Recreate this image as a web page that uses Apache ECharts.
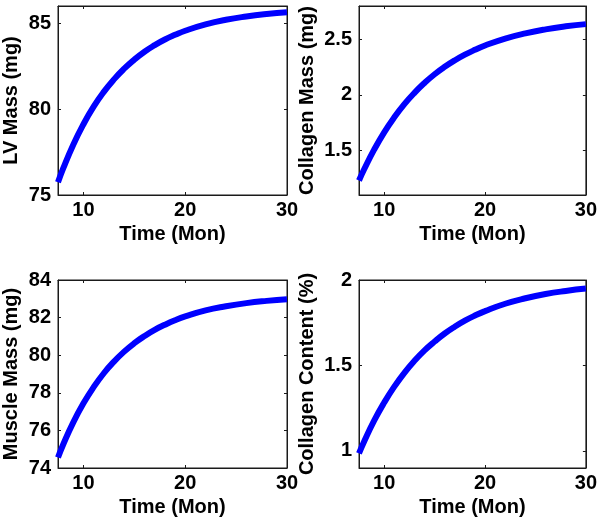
<!DOCTYPE html>
<html>
<head>
<meta charset="utf-8">
<script src="https://cdn.jsdelivr.net/npm/echarts@6/dist/echarts.min.js"></script>
<style>
html,body{margin:0;padding:0;background:#fff;}
#c{width:600px;height:520px;}
</style>
</head>
<body>
<div id="c"></div>
<script>
// ---- data ----
var months = [7.5, 8, 9, 10, 11, 12, 13, 14, 15, 16, 17, 18, 19, 20, 22, 24, 26, 28, 30];
var lvMass = [75.74, 76.53, 77.93, 79.12, 80.14, 81.0, 81.73, 82.35, 82.88, 83.34, 83.72, 84.05, 84.32, 84.56, 84.93, 85.2, 85.39, 85.53, 85.63];
var collagenMass = [1.23, 1.329, 1.508, 1.664, 1.799, 1.917, 2.019, 2.108, 2.186, 2.253, 2.311, 2.362, 2.406, 2.445, 2.507, 2.554, 2.59, 2.617, 2.637];
var muscleMass = [74.56, 75.24, 76.43, 77.44, 78.3, 79.04, 79.66, 80.19, 80.64, 81.02, 81.35, 81.62, 81.86, 82.06, 82.38, 82.6, 82.77, 82.89, 82.98];
var collagenContent = [0.986, 1.054, 1.177, 1.283, 1.376, 1.457, 1.527, 1.588, 1.64, 1.687, 1.727, 1.762, 1.792, 1.818, 1.861, 1.893, 1.918, 1.936, 1.95];

var xTicks = [10, 20, 30];
var lvTicks = [75, 80, 85];
var collagenMassTicks = [1.5, 2, 2.5];
var muscleTicks = [74, 76, 78, 80, 82, 84];
var collagenContentTicks = [1, 1.5, 2];

var xName = 'Time (Mon)';
var yNames = ['LV Mass (mg)', 'Collagen Mass (mg)', 'Muscle Mass (mg)', 'Collagen Content (%)'];
var seriesData = [lvMass, collagenMass, muscleMass, collagenContent];
var yTickSets = [lvTicks, collagenMassTicks, muscleTicks, collagenContentTicks];
var yRanges = [[75, 86], [1.1, 2.8], [74, 84], [0.9, 2.0]];
var xRange = [7.5, 30];

// ---- layout ----
var grids = [
  {left: 57, top: 6, width: 230, height: 189},
  {left: 359, top: 6, width: 229, height: 189},
  {left: 57, top: 280, width: 230, height: 188},
  {left: 359, top: 280, width: 229, height: 188}
];
var yNameGaps = [37, 42, 37, 42];

var FONT = '"Liberation Sans", Arial, sans-serif';
var AX = '#1a1a1a';
var txt = {fontFamily: FONT, fontWeight: 'bold', fontSize: 20, color: '#000'};

var option = {
  animation: false,
  backgroundColor: '#fff',
  grid: [], xAxis: [], yAxis: [], series: []
};

function pairs(xs, ys) {
  var out = [];
  for (var i = 0; i < xs.length; i++) out.push([xs[i], ys[i]]);
  return out;
}

for (var g = 0; g < 4; g++) {
  var gr = grids[g];
  option.grid.push({left: gr.left, top: gr.top, width: gr.width, height: gr.height,
    show: true, borderColor: AX, borderWidth: 1, backgroundColor: '#fff'});
  option.xAxis.push({
    type: 'value', gridIndex: g, position: 'bottom', min: xRange[0], max: xRange[1],
    name: xName, nameLocation: 'middle', nameGap: 29,
    nameTextStyle: txt,
    axisLine: {show: true, lineStyle: {color: AX, width: 1}},
    axisTick: {show: true, inside: true, length: 3, customValues: xTicks, lineStyle: {color: AX}},
    axisLabel: {show: true, customValues: xTicks, margin: 5, fontFamily: FONT, fontWeight: 'bold', fontSize: 20, color: '#000'},
    splitLine: {show: false}
  });
  option.xAxis.push({
    type: 'value', gridIndex: g, position: 'top', min: xRange[0], max: xRange[1],
    axisLine: {show: true, lineStyle: {color: AX, width: 1}},
    axisTick: {show: true, inside: true, length: 3, customValues: xTicks, lineStyle: {color: AX}},
    axisLabel: {show: false},
    splitLine: {show: false}
  });
  option.yAxis.push({
    type: 'value', gridIndex: g, position: 'left', min: yRanges[g][0], max: yRanges[g][1],
    name: yNames[g], nameLocation: 'middle', nameGap: yNameGaps[g], nameRotate: 90,
    nameTextStyle: txt,
    axisLine: {show: true, lineStyle: {color: AX, width: 1}},
    axisTick: {show: true, inside: true, length: 3, customValues: yTickSets[g], lineStyle: {color: AX}},
    axisLabel: {show: true, customValues: yTickSets[g], margin: 7, fontFamily: FONT, fontWeight: 'bold', fontSize: 20, color: '#000'},
    splitLine: {show: false}
  });
  option.yAxis.push({
    type: 'value', gridIndex: g, position: 'right', min: yRanges[g][0], max: yRanges[g][1],
    axisLine: {show: true, lineStyle: {color: AX, width: 1}},
    axisTick: {show: true, inside: true, length: 3, customValues: yTickSets[g], lineStyle: {color: AX}},
    axisLabel: {show: false},
    splitLine: {show: false}
  });
  option.series.push({
    type: 'line', xAxisIndex: 2 * g, yAxisIndex: 2 * g,
    data: pairs(months, seriesData[g]),
    showSymbol: false, smooth: true,
    lineStyle: {color: '#0000ff', width: 6},
    itemStyle: {color: '#0000ff'}
  });
}

var chart = echarts.init(document.getElementById('c'), null, {renderer: 'canvas'});
chart.setOption(option);
</script>
</body>
</html>
